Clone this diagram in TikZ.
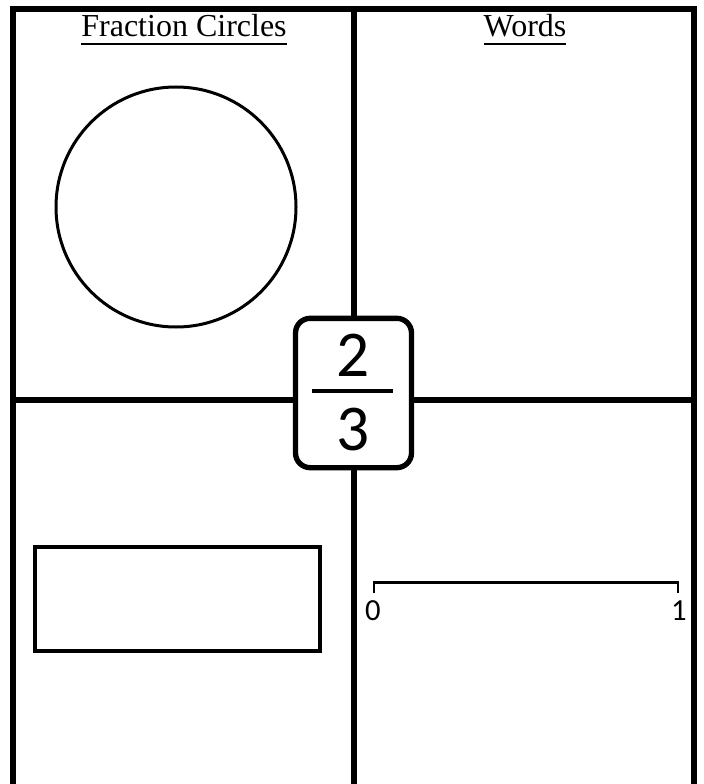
\documentclass[tikz,border=0pt]{standalone}
\usepackage{fontspec}
\setmainfont{Liberation Serif}
\newfontfamily\digitfont{Carlito}
\usetikzlibrary{positioning}

\newcommand\headline[1]{\setbox0\hbox{#1}\rlap{\rule[-6pt]{\wd0}{1.5pt}}\box0}

\begin{document}
\begin{tikzpicture}[x=0.75pt,y=-0.75pt]
  \useasboundingbox (0,0) rectangle (703,784);
  % quarters
  \coordinate (TL) at (13,9);
  \coordinate (TR) at (694,9);
  \coordinate (TM) at (354,9);
  \draw[line width=4.5pt] (13,784) -- (TL) -- (TR) -- (694,784);
  \draw[line width=4.5pt] (TM) -- (354,784);
  \draw[line width=4.5pt] (13,400) -- (694,400);
  \node[anchor=base,font=\fontsize{24}{28}\selectfont] (circles) at (184,37) {\headline{Fraction Circles}};
  \node[anchor=base,font=\fontsize{24}{28}\selectfont] (words) at (525,37) {\headline{Words}};
  % circle
  \coordinate (O) at (176,207);
  \draw[line width=2.25pt] (O) circle[radius=90pt];
  % bar
  \draw[line width=3pt] (35,547) rectangle (320,651);
  % number line
  \coordinate (N0) at (374,582.5);
  \coordinate (N1) at (678,582.5);
  \draw[line width=2pt] (374,593) -- (N0) -- (N1) -- (678,593);
  \node[anchor=base,font=\digitfont\fontsize{23}{27}\selectfont] (zero) at (373,620) {0};
  \node[anchor=base,font=\digitfont\fontsize{23}{27}\selectfont] (one) at (679,620) {1};
  % fraction card
  \node[draw,line width=4pt,fill=white,rounded corners=11pt,minimum width=87pt,minimum height=112pt] (card) at (353.5,393) {};
  \node[anchor=base,font=\digitfont\fontsize{49}{56}\selectfont] (num) at (353,376) {2};
  \node[anchor=base,font=\digitfont\fontsize{49}{56}\selectfont] (den) at (353,450) {3};
  \coordinate (B0) at (312,391);
  \coordinate (B1) at (393,391);
  \draw[line width=3pt] (B0) -- (B1);
\end{tikzpicture}
\end{document}
